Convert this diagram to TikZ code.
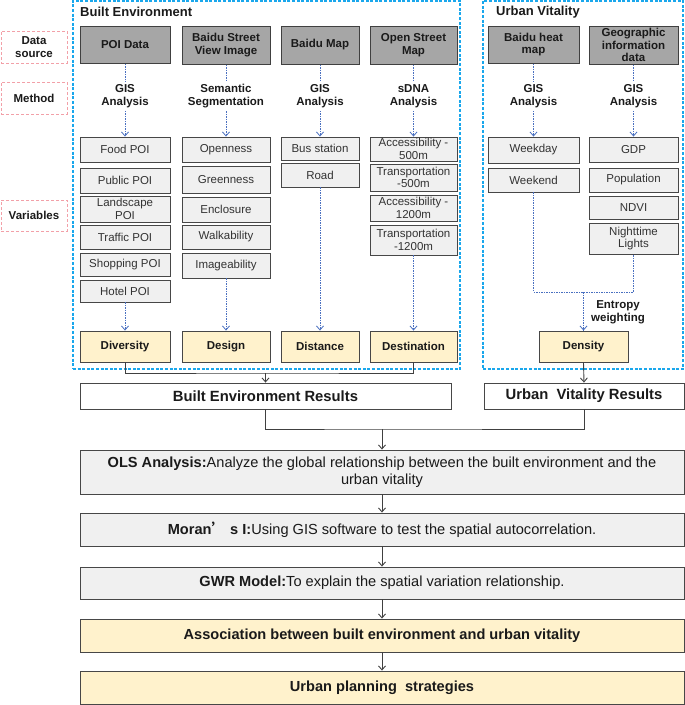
\documentclass[tikz,border=0pt]{standalone}
\usepackage{fontspec}
\setmainfont{Liberation Sans}
\newfontfamily\cjkfont{Noto Sans CJK SC}
\usetikzlibrary{arrows.meta}
\definecolor{srcgray}{HTML}{A6A6A6}
\definecolor{boxgray}{HTML}{F0F0F0}
\definecolor{yel}{HTML}{FFF2CC}
\definecolor{grpblue}{HTML}{1AA7EC}
\definecolor{lblpink}{HTML}{F2A0A8}
\definecolor{dotblue}{HTML}{4A70C0}
\definecolor{txt}{HTML}{1A1A1A}
\newcommand\bx[7]{\node[#2, minimum width={#5-#3}, minimum height={#6-#4}] (#1) at ({(#3+#5)/2},{(#4+#6)/2}) {#7};}
\begin{document}
\begin{tikzpicture}[x=1pt,y=-1pt,
  every node/.style={inner sep=1pt, align=center, text=txt},
  grp/.style={draw=grpblue, line width=1.3pt, dash pattern=on 3pt off 1.6pt},
  lblbox/.style={draw=lblpink, line width=0.9pt, dash pattern=on 3pt off 2pt, font=\fontsize{11.5}{13.5}\selectfont\bfseries},
  srcbox/.style={draw=black!75, line width=1pt, fill=srcgray, font=\fontsize{11.5}{12.5}\selectfont\bfseries},
  varbox/.style={draw=black!72, line width=0.9pt, fill=boxgray, font=\fontsize{11.5}{12.5}\selectfont, text=black!80},
  resbox/.style={draw=black!72, line width=0.9pt, fill=yel, font=\fontsize{11.5}{13}\selectfont\bfseries},
  outbox/.style={draw=black!72, line width=0.9pt, fill=white, font=\fontsize{14.8}{16}\selectfont\bfseries},
  stepbox/.style={draw=black!72, line width=0.9pt, fill=boxgray, font=\fontsize{14.6}{17}\selectfont},
  finbox/.style={draw=black!72, line width=0.9pt, fill=yel, font=\fontsize{14.6}{17}\selectfont\bfseries},
  methtxt/.style={font=\fontsize{11.5}{13}\selectfont\bfseries, inner sep=3pt},
  title/.style={font=\fontsize{13}{15}\selectfont\bfseries, anchor=west, inner sep=0pt},
  dotline/.style={draw=dotblue, line width=0.8pt, dash pattern=on 1.5pt off 1pt},
  dotarrow/.style={dotline, -{Straight Barb[length=4pt,width=7pt]}},
  sline/.style={draw=black!75, line width=0.9pt},
  sarrow/.style={sline, -{Straight Barb[length=4pt,width=7pt]}}
]
\useasboundingbox (0,0) rectangle (685,705);
% group frames
\bx{gBE}{grp}{73}{1}{460}{369}{}
\bx{gUV}{grp}{483}{1}{683}{369}{}
\node[title] (tBE) at (80,12) {Built Environment};
\node[title] (tUV) at (496,12) {Urban Vitality};
% left labels
\bx{l1}{lblbox}{1}{31}{67}{63}{Data\\source}
\bx{l2}{lblbox}{1}{82}{67}{114}{Method}
\bx{l3}{lblbox}{1}{200}{67}{231}{Variables}
% data sources
\bx{s1}{srcbox}{80}{26}{170}{63}{POI Data}
\bx{s2}{srcbox}{182}{26}{270}{64}{Baidu Street\\View Image}
\bx{s3}{srcbox}{281}{26}{359}{64}{Baidu Map}
\bx{s4}{srcbox}{370}{26}{457}{64}{Open Street\\Map}
\bx{s5}{srcbox}{488}{26}{579}{63}{Baidu heat\\map}
\bx{s6}{srcbox}{589}{26}{678}{64}{Geographic\\information\\data}
% methods
\node[methtxt] (m1) at (125,96) {GIS\\Analysis};
\node[methtxt] (m2) at (226,96) {Semantic\\Segmentation};
\node[methtxt] (m3) at (320,96) {GIS\\Analysis};
\node[methtxt] (m4) at (413.5,96) {sDNA\\Analysis};
\node[methtxt] (m5) at (533.5,96) {GIS\\Analysis};
\node[methtxt] (m6) at (633.5,96) {GIS\\Analysis};
% variables col1
\bx{v1a}{varbox}{80}{137}{170}{162}{Food POI}
\bx{v1b}{varbox}{80}{168}{170}{193}{Public POI}
\bx{v1c}{varbox}{80}{196}{170}{222}{Landscape\\POI}
\bx{v1d}{varbox}{80}{225}{170}{249}{Traffic POI}
\bx{v1e}{varbox}{80}{253}{170}{276}{Shopping POI}
\bx{v1f}{varbox}{80}{280}{170}{302}{Hotel POI}
% col2
\bx{v2a}{varbox}{182}{137}{270}{162}{Openness}
\bx{v2b}{varbox}{182}{166}{270}{193}{Greenness}
\bx{v2c}{varbox}{182}{197}{270}{222}{Enclosure}
\bx{v2d}{varbox}{182}{225}{270}{249}{Walkability}
\bx{v2e}{varbox}{182}{253}{270}{278}{Imageability}
% col3
\bx{v3a}{varbox}{281}{137}{359}{160}{Bus station}
\bx{v3b}{varbox}{281}{163}{359}{187}{Road}
% col4
\bx{v4a}{varbox}{370}{137}{457}{161}{Accessibility -\\500m}
\bx{v4b}{varbox}{370}{164}{457}{191}{Transportation\\-500m}
\bx{v4c}{varbox}{370}{195}{457}{221}{Accessibility -\\1200m}
\bx{v4d}{varbox}{370}{225}{457}{255}{Transportation\\-1200m}
% col5
\bx{v5a}{varbox}{488}{137}{579}{163}{Weekday}
\bx{v5b}{varbox}{488}{168}{579}{192}{Weekend}
% col6
\bx{v6a}{varbox}{589}{137}{678}{162}{GDP}
\bx{v6b}{varbox}{589}{168}{678}{192}{Population}
\bx{v6c}{varbox}{589}{196}{678}{219}{NDVI}
\bx{v6d}{varbox}{589}{223}{678}{254}{Nighttime\\Lights}
% dimension results
\bx{div}{resbox}{80}{331}{170}{362}{Diversity}
\bx{des}{resbox}{182}{331}{270}{362}{Design}
\bx{dis}{resbox}{281}{331}{359}{362}{Distance}
\bx{dst}{resbox}{370}{331}{457}{362}{Destination}
\bx{den}{resbox}{539}{331}{628}{362}{Density}
% results
\bx{ber}{outbox}{80}{383}{451}{409}{Built Environment Results}
\bx{uvr}{outbox}{484}{383}{684}{409}{Urban\ \ Vitality Results}
\bx{ols}{stepbox}{80}{450}{684}{494}{\textbf{OLS Analysis:}Analyze the global relationship between the built environment and the\\urban vitality}
\bx{mor}{stepbox}{80}{513}{684}{546}{\textbf{Moran{\cjkfont ’} s I:}Using GIS software to test the spatial autocorrelation.}
\bx{gwr}{stepbox}{80}{567}{684}{599}{\textbf{GWR Model:}To explain the spatial variation relationship.}
\bx{asc}{finbox}{80}{619}{684}{652}{Association between built environment and urban vitality}
\bx{pln}{finbox}{80}{671}{684}{704}{Urban planning\ \ strategies}
% dotted connectors
\foreach \i/\v in {1/v1a,2/v2a,3/v3a,4/v4a,5/v5a,6/v6a}{
  \draw[dotline] (s\i.south) -- (m\i.north);
  \draw[dotarrow] (m\i.south) -- (\v.north);
}
\draw[dotarrow] (v1f.south) -- (div.north);
\draw[dotarrow] (v2e.south) -- (des.north);
\draw[dotarrow] (v3b.south) -- (dis.north);
\draw[dotarrow] (v4d.south) -- (dst.north);
\coordinate (je) at (583.5,292);
\draw[dotline] (v5b.south) -- (v5b.south |- je) -- (v6d.south |- je) -- (v6d.south);
\draw[dotarrow] (je) -- (den.north);
\node[methtxt, inner sep=0pt] (ent) at (618,312) {Entropy\\weighting};
% solid connectors
\coordinate (jBE) at (265.5,373);
\draw[sline] (div.south) |- (jBE) -| (dst.south);
\draw[sarrow] (jBE) -- (ber.north);
\draw[sarrow] (den.south) -- (uvr.north);
\coordinate (jR) at (382,429);
\draw[sline] (ber.south) |- (jR) -| (uvr.south);
\draw[sarrow] (jR) -- (ols.north);
\draw[sarrow] (ols.south) -- (mor.north);
\draw[sarrow] (mor.south) -- (gwr.north);
\draw[sarrow] (gwr.south) -- (asc.north);
\draw[sarrow] (asc.south) -- (pln.north);
\end{tikzpicture}
\end{document}
